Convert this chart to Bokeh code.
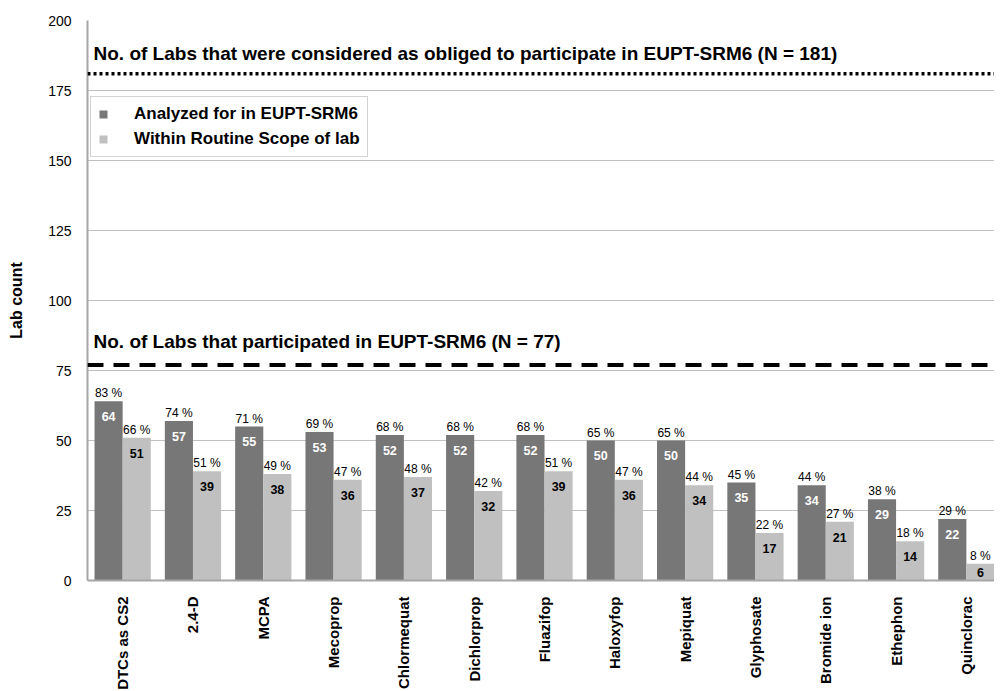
from bokeh.plotting import figure
from bokeh.models import (ColumnDataSource, Range1d, FixedTicker, Span, Label,
                          Legend, LegendItem, LabelSet)
from bokeh.core.properties import value
from bokeh.embed import file_html
from bokeh.resources import INLINE

# ---- data ----
categories = ["DTCs as CS2", "2.4-D", "MCPA", "Mecoprop", "Chlormequat", "Dichlorprop",
              "Fluazifop", "Haloxyfop", "Mepiquat", "Glyphosate", "Bromide ion",
              "Ethephon", "Quinclorac"]
analyzed = [64, 57, 55, 53, 52, 52, 52, 50, 50, 35, 34, 29, 22]
routine = [51, 39, 38, 36, 37, 32, 39, 36, 34, 17, 21, 14, 6]
analyzed_pct = [83, 74, 71, 69, 68, 68, 68, 65, 65, 45, 44, 38, 29]
routine_pct = [66, 51, 49, 47, 48, 42, 51, 47, 44, 22, 27, 18, 8]
n_obliged = 181
n_participated = 77
y_ticks = [0, 25, 50, 75, 100, 125, 150, 175, 200]

FONT = "Liberation Sans"
DARK = "#777777"
LIGHT = "#c0c0c0"


def inside_pos(vals):
    # label anchor inside the bar: near the top end, or mid-bar for very short bars
    return [max(v - 5.5, v / 2) for v in vals]


centers = [i + 0.5 for i in range(len(categories))]
src_a = ColumnDataSource(dict(x=[c - 0.2 for c in centers], top=analyzed,
                              ly=inside_pos(analyzed),
                              val=[str(v) for v in analyzed],
                              pct=[f"{v} %" for v in analyzed_pct]))
src_r = ColumnDataSource(dict(x=[c + 0.2 for c in centers], top=routine,
                              ly=inside_pos(routine),
                              val=[str(v) for v in routine],
                              pct=[f"{v} %" for v in routine_pct]))

p = figure(frame_width=907, frame_height=560, output_backend="svg", toolbar_location=None,
           x_range=Range1d(0, 12.9), y_range=Range1d(0, 200),
           min_border_left=87, min_border_right=0, min_border_top=20,
           min_border_bottom=60)
p.outline_line_color = None
p.background_fill_color = "white"

ra = p.vbar(x="x", top="top", width=0.4, source=src_a, fill_color=DARK, line_color=None)
rr = p.vbar(x="x", top="top", width=0.4, source=src_r, fill_color=LIGHT, line_color=None)

# value labels inside bars
p.add_layout(LabelSet(x="x", y="ly", text="val", source=src_a, text_align="center",
                      text_baseline="middle", text_color="white",
                      text_font=value(FONT), text_font_size="12.5px",
                      text_font_style="bold"))
p.add_layout(LabelSet(x="x", y="ly", text="val", source=src_r, text_align="center",
                      text_baseline="middle", text_color="black",
                      text_font=value(FONT), text_font_size="12.5px",
                      text_font_style="bold"))
# percentage labels above bars
for s in (src_a, src_r):
    p.add_layout(LabelSet(x="x", y="top", text="pct", source=s, text_align="center",
                          text_baseline="alphabetic", y_offset=4, text_color="black",
                          text_font=value(FONT), text_font_size="12px"))

# reference lines
p.add_layout(Span(location=n_obliged, dimension="width", line_color="black",
                  line_width=3.5, line_dash="3 3"))
p.add_layout(Span(location=n_participated, dimension="width", line_color="black",
                  line_width=4, line_dash="16 10"))
p.add_layout(Label(x=0, y=n_obliged, x_offset=6, y_offset=20,
                   text=f"No. of Labs that were considered as obliged to participate in EUPT-SRM6 (N = {n_obliged})",
                   text_font=FONT, text_font_size="19px", text_font_style="bold",
                   text_baseline="alphabetic", text_color="black"))
p.add_layout(Label(x=0, y=n_participated, x_offset=6, y_offset=23,
                   text=f"No. of Labs that participated in EUPT-SRM6 (N = {n_participated})",
                   text_font=FONT, text_font_size="19px", text_font_style="bold",
                   text_baseline="alphabetic", text_color="black"))

# axes
p.yaxis.ticker = FixedTicker(ticks=y_ticks)
p.ygrid.ticker = FixedTicker(ticks=y_ticks)
p.ygrid.grid_line_color = "#c0c0c0"
p.ygrid.grid_line_width = 1
p.xgrid.grid_line_color = None
p.yaxis.axis_label = "Lab count"
p.yaxis.axis_label_text_font = FONT
p.yaxis.axis_label_text_font_size = "16px"
p.yaxis.axis_label_text_font_style = "bold"
p.yaxis.axis_label_text_color = "black"
p.yaxis.axis_label_standoff = 20
p.yaxis.major_label_text_font = FONT
p.yaxis.major_label_text_font_size = "14px"
p.yaxis.major_label_text_color = "black"
p.yaxis.major_label_standoff = 10
p.yaxis.major_tick_line_color = None
p.yaxis.minor_tick_line_color = None
p.yaxis.axis_line_color = "#a6a6a6"
p.yaxis.axis_line_width = 2

p.xaxis.ticker = FixedTicker(ticks=centers)
p.xaxis.major_label_overrides = {c: name for c, name in zip(centers, categories)}
p.xaxis.major_label_orientation = 3.14159265 / 2
p.xaxis.major_label_text_font = FONT
p.xaxis.major_label_text_font_size = "15px"
p.xaxis.major_label_text_font_style = "bold"
p.xaxis.major_label_text_color = "black"
p.xaxis.major_label_standoff = 10
p.xaxis.major_tick_line_color = None
p.xaxis.minor_tick_line_color = None
p.xaxis.axis_line_color = "#a6a6a6"
p.xaxis.axis_line_width = 2

legend = Legend(items=[LegendItem(label="Analyzed for in EUPT-SRM6", renderers=[ra]),
                       LegendItem(label="Within Routine Scope of lab", renderers=[rr])],
                location=(3, 423), orientation="vertical")
legend.margin = 0
legend.label_text_font = FONT
legend.label_text_font_size = "17px"
legend.label_text_font_style = "bold"
legend.label_text_color = "black"
legend.glyph_width = 10
legend.glyph_height = 10
legend.label_standoff = 26
legend.padding = 7
legend.spacing = 5
legend.border_line_color = "#a6a6a6"
legend.border_line_width = 1
legend.background_fill_alpha = 1
p.add_layout(legend)

open("out.html", "w").write(file_html(p, INLINE))
